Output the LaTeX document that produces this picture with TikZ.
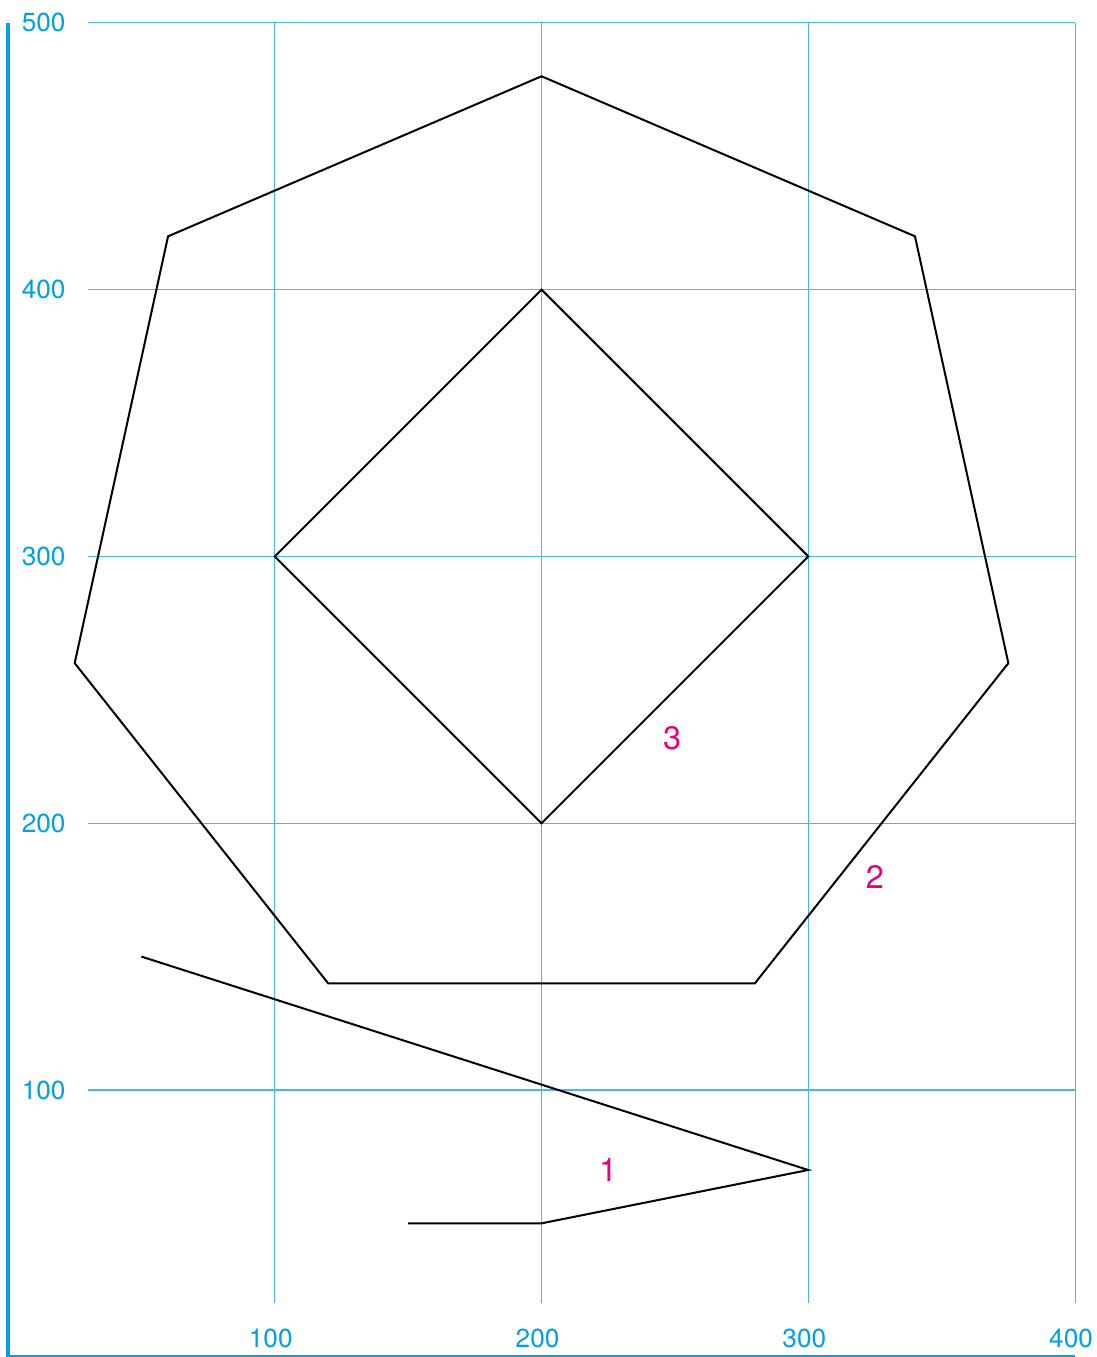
\documentclass[tikz,border=0pt]{standalone}
\usepackage{fontspec}
\setmainfont{TeX Gyre Heros}
\usepackage{tikz}
\usetikzlibrary{positioning}
\definecolor{axisblue}{RGB}{0,160,227}
\definecolor{gridblue}{RGB}{70,185,235}
\definecolor{labelmagenta}{RGB}{230,0,126}
\tikzset{x=1pt, y=1pt,
axisline/.style={ % Sets the properties for the two axes
draw=axisblue,
line width=1.5pt},
gridline/.style={ % Thin lines of the grid
draw=gridblue,
line width=0.4pt},
ticklabel/.style={ % Numbers along the axes
text=axisblue,
inner sep=0pt,
font=\fontsize{9.8}{11}\selectfont},
outline/.style={ % The drawn figures
draw=black,
line width=0.75pt},
partlabel/.style={ % Numbers of the figures
text=labelmagenta,
inner sep=0pt,
font=\fontsize{12.2}{14}\selectfont}}

\begin{document}
\begin{tikzpicture}
\useasboundingbox (-3,-0.1) rectangle (408.2,508.6);
\foreach \v in {100,200,300,400} {
\draw[gridline] (\v,20) -- (\v,500);
\node[ticklabel] (x\v) at (\v-1.5,7) {\v};
}
\foreach \v in {100,200,300,400,500} {
\draw[gridline] (30,\v) -- (400,\v);
\node[ticklabel, anchor=east] (y\v) at (21.7,\v) {\v};
}
\draw[axisline] (0,500) -- (0,0) -- (400,0);
\draw[outline] (200,480) -- (340,420) -- (375,260) -- (280,140) -- (120,140) -- (25,260) -- (60,420) -- cycle;
\draw[outline] (200,400) -- (300,300) -- (200,200) -- (100,300) -- cycle;
\draw[outline] (50,150) -- (300,70) -- (200,50) -- (150,50);
\node[partlabel] (n1) at (225,70) {1};
\node[partlabel] (n2) at (325,180) {2};
\node[partlabel] (n3) at (249,232) {3};
\end{tikzpicture}
\end{document}
